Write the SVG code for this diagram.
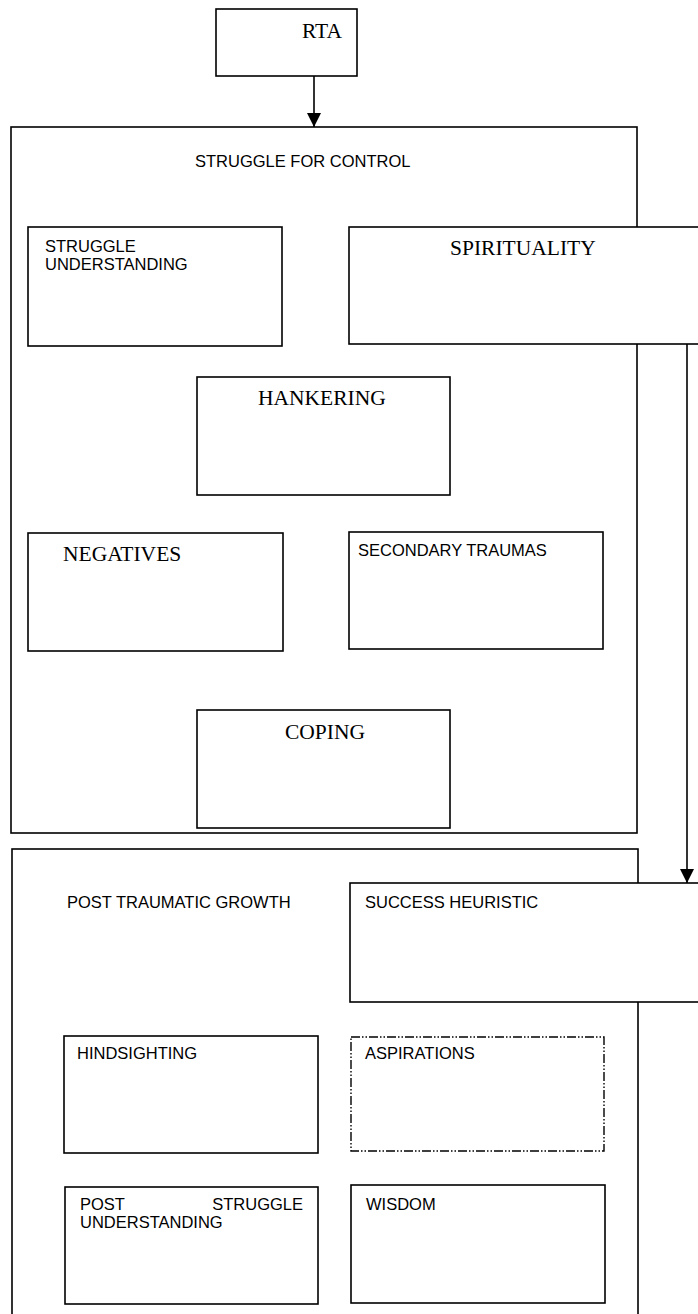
<svg xmlns="http://www.w3.org/2000/svg" width="698" height="1314" viewBox="0 0 698 1314">
<style>
.box{fill:#fff;stroke:#000;stroke-width:1.6}
.frame{fill:none;stroke:#000;stroke-width:1.6}
.dd{fill:#fff;stroke:#000;stroke-width:1.4;stroke-dasharray:9 2 1.5 2 1.5 2}
.sans{font-family:"Liberation Sans",Arial,sans-serif;font-size:16.5px;fill:#000}
.serif{font-family:"Liberation Serif","Times New Roman",serif;font-size:21.5px;fill:#000}
.conn{stroke:#000;stroke-width:1.6;fill:none}
</style>
<defs>
<marker id="arr" markerWidth="14" markerHeight="14" refX="14" refY="7" orient="auto" markerUnits="userSpaceOnUse">
<path d="M0,0 L14,7 L0,14 Z" fill="#000"/>
</marker>
</defs>
<rect width="698" height="1314" fill="#fff"/>
<g id="struggle-for-control">
<rect class="frame" x="11" y="127" width="626" height="706"/>
<text class="sans" x="195" y="167">STRUGGLE FOR CONTROL</text>
</g>
<g id="post-traumatic-growth">
<rect class="frame" x="12" y="849" width="626" height="480"/>
<text class="sans" x="67" y="908">POST TRAUMATIC GROWTH</text>
</g>
<g id="rta">
<rect class="box" x="216" y="9" width="141" height="67"/>
<text class="serif" x="302" y="38">RTA</text>
</g>
<g id="struggle-understanding">
<rect class="box" x="28" y="227" width="254" height="119"/>
<text class="sans" x="45" y="252">STRUGGLE</text>
<text class="sans" x="45" y="270">UNDERSTANDING</text>
</g>
<g id="spirituality">
<rect class="box" x="349" y="227" width="360" height="117"/>
<text class="serif" x="450" y="255">SPIRITUALITY</text>
</g>
<g id="hankering">
<rect class="box" x="197" y="377" width="253" height="118"/>
<text class="serif" x="258" y="405">HANKERING</text>
</g>
<g id="negatives">
<rect class="box" x="28" y="533" width="255" height="118"/>
<text class="serif" x="63" y="561">NEGATIVES</text>
</g>
<g id="secondary-traumas">
<rect class="box" x="349" y="532" width="254" height="117"/>
<text class="sans" x="358" y="556">SECONDARY TRAUMAS</text>
</g>
<g id="coping">
<rect class="box" x="197" y="710" width="253" height="118"/>
<text class="serif" x="285" y="739">COPING</text>
</g>
<g id="success-heuristic">
<rect class="box" x="350" y="883" width="360" height="119"/>
<text class="sans" x="365" y="908">SUCCESS HEURISTIC</text>
</g>
<g id="hindsighting">
<rect class="box" x="64" y="1036" width="254" height="117"/>
<text class="sans" x="77" y="1059">HINDSIGHTING</text>
</g>
<g id="aspirations">
<rect class="dd" x="351" y="1037" width="253" height="114"/>
<text class="sans" x="365" y="1059">ASPIRATIONS</text>
</g>
<g id="post-struggle-understanding">
<rect class="box" x="65" y="1187" width="253" height="117"/>
<text class="sans" x="80" y="1210">POST</text>
<text class="sans" x="303" y="1210" text-anchor="end">STRUGGLE</text>
<text class="sans" x="80" y="1228">UNDERSTANDING</text>
</g>
<g id="wisdom">
<rect class="box" x="351" y="1185" width="254" height="118"/>
<text class="sans" x="366" y="1210">WISDOM</text>
</g>
<g id="connectors">
<line class="conn" x1="314" y1="76" x2="314" y2="127" marker-end="url(#arr)"/>
<line class="conn" x1="687" y1="344" x2="687" y2="883" marker-end="url(#arr)"/>
</g>
</svg>
